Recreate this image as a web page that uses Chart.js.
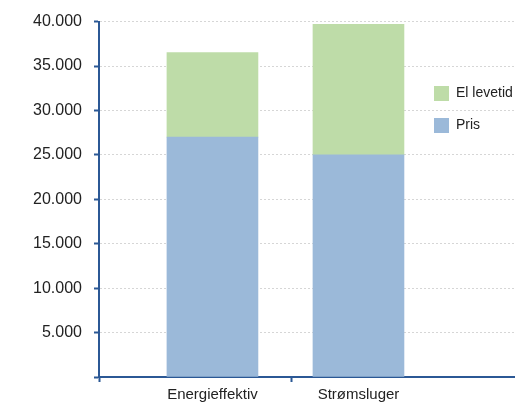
<!DOCTYPE html>
<html>
<head>
<meta charset="utf-8">
<script src="https://cdn.jsdelivr.net/npm/chart.js@4/dist/chart.umd.min.js"></script>
<style>
  html, body { margin: 0; padding: 0; background: #ffffff; }
  #wrap { width: 515px; height: 409px; position: relative; }
</style>
</head>
<body>
<div id="wrap"><canvas id="c" width="515" height="409"></canvas></div>
<script>
const categories = ['Energieffektiv', 'Strømsluger'];
const prisValues = [27000, 25000];
const elLevetidValues = [9500, 14700];
const yTickValues = [0, 5000, 10000, 15000, 20000, 25000, 30000, 35000, 40000];

const AXIS = '#2b5895';
const GRID = '#d6d6d6';
const BLUE = '#9bb9d9';
const GREEN = '#bedca8';

Chart.defaults.font.family = '"Liberation Sans", Arial, Helvetica, sans-serif';
Chart.defaults.color = '#222222';

// x axis layout (category index space)
const X_MIN = -0.777;
const X_MAX = 2.072;
const X_DIVIDER = 0.538;

function fmt(v) {
  return String(v).replace(/\B(?=(\d{3})+(?!\d))/g, '.');
}

const legendPos = {
  id: 'legendPos',
  afterLayout(chart) {
    const l = chart.legend;
    if (!l) return;
    const pad = l.options.labels.padding;
    const w = l.width, h = l.height;
    l.left = 434 - pad;
    l.top = 86 - pad;
    l.right = l.left + w;
    l.bottom = l.top + h;
  }
};

new Chart(document.getElementById('c'), {
  type: 'bar',
  data: {
    datasets: [
      {
        label: 'Pris',
        data: categories.map((c, i) => ({ x: i, y: prisValues[i] })),
        backgroundColor: BLUE,
        borderWidth: 0,
        barThickness: 91
      },
      {
        label: 'El levetid',
        data: categories.map((c, i) => ({ x: i, y: elLevetidValues[i] })),
        backgroundColor: GREEN,
        borderWidth: 0,
        barThickness: 91
      }
    ]
  },
  options: {
    responsive: false,
    animation: false,
    devicePixelRatio: 1,
    layout: { padding: { top: 19, right: 0, bottom: 0, left: 0 } },
    plugins: {
      tooltip: { enabled: false },
      legend: {
        position: 'chartArea',
        align: 'start',
        reverse: true,
        labels: {
          boxWidth: 15,
          boxHeight: 15,
          padding: 17,
          color: '#222222',
          font: { size: 14 }
        }
      }
    },
    scales: {
      x: {
        type: 'linear',
        stacked: true,
        offset: false,
        min: X_MIN,
        max: X_MAX,
        afterBuildTicks(scale) {
          scale.ticks = [X_MIN, 0, X_DIVIDER, 1].map(v => ({ value: v }));
        },
        afterFit(scale) { scale.height = 32; },
        ticks: {
          autoSkip: false,
          maxRotation: 0,
          padding: 4,
          color: '#222222',
          font: { size: 15 },
          callback(v) { return Number.isInteger(v) && categories[v] !== undefined ? categories[v] : ''; }
        },
        grid: {
          offset: false,
          drawOnChartArea: false,
          drawTicks: true,
          tickLength: 5,
          tickWidth: 2,
          tickColor: ctx => (ctx.tick && Number.isInteger(ctx.tick.value)) ? 'rgba(0,0,0,0)' : AXIS
        },
        border: { display: true, color: AXIS, width: 2 }
      },
      y: {
        stacked: true,
        min: 0,
        max: 40000,
        afterBuildTicks(scale) {
          scale.ticks = yTickValues.map(v => ({ value: v }));
        },
        afterFit(scale) { scale.width = 99; },
        ticks: {
          padding: 12,
          color: '#222222',
          font: { size: 16 },
          callback(v) { return v === 0 ? '' : fmt(v); }
        },
        grid: {
          color: ctx => (ctx.tick && ctx.tick.value === 0) ? 'rgba(0,0,0,0)' : GRID,
          lineWidth: 1,
          tickLength: 5,
          tickWidth: 2,
          tickColor: AXIS
        },
        border: { display: true, color: AXIS, width: 2, dash: [2, 2] }
      }
    }
  },
  plugins: [legendPos]
});
</script>
</body>
</html>
